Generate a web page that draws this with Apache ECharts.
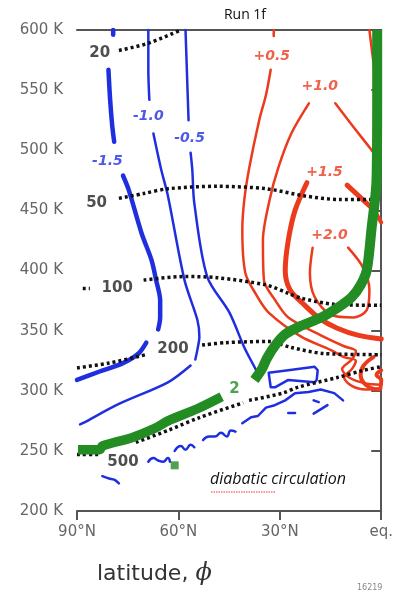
<!DOCTYPE html>
<html><head><meta charset="utf-8">
<script src="https://cdn.jsdelivr.net/npm/echarts@6/dist/echarts.min.js"></script>
<style>html,body{margin:0;padding:0;background:#fff}#c{width:396px;height:590px}</style>
</head><body><div id="c"></div>
<script>
// ---- axes ----
const latTicks = [90, 60, 30, 0];
const latTickLabels = ['90°N', '60°N', '30°N', 'eq.'];
const thetaTicks = [200, 250, 300, 350, 400, 450, 500, 550, 600];
const thetaTickLabels = ['200 K','250 K','300 K','350 K','400 K','450 K','500 K','550 K','600 K'];

// ---- blue (negative) contours [lat, theta K] ----
const blueM15Stub = [[79.3,600],[79.3,596]];
const blueM15a = [[80.7,567],[80.2,542],[79.6,521],[79.0,507]];
const blueM15b = [[76.4,479],[74.7,467],[70.9,431],[68.0,409],[66.6,392],[65.4,375],[65.4,361],[66.0,351]];
const blueM15c = [[90,309],[83.3,316],[76.4,323],[71.8,331],[69.5,340]];
const blueM10a = [[68.9,600],[68.9,567],[68.6,542]];
const blueM10b = [[67.4,514],[65.1,484],[63.1,462],[58.2,392],[54.4,359],[53.8,345],[54.4,334],[55.0,326]];
const blueM10c = [[56.4,321],[63.1,307],[77.6,289],[88.3,273],[89.1,272]];
const blueM05a = [[57.9,600],[57.0,525]];
const blueM05b = [[56.4,498],[55.9,484],[55.3,456],[51.5,395],[44.9,365],[40.5,336],[37.0,317],[36.5,313]];
const blueLoop = [[33.3,315],[27.5,317],[19.7,320],[18.8,317],[19.1,309],[19.7,307],[27.5,309],[31.3,303],[32.7,303],[33.3,315]];
const blueLow = [[41.1,273],[38.5,278],[36.5,279],[34.1,286],[31.5,288],[28.4,292],[25.5,298],[21.5,299],[17.9,301],[13.9,298],[11.3,292]];
const blueDash1 = [[27.5,281.5],[25.5,281.5]];
const blueDash2 = [[20.0,292],[18.5,290.5]];
const blueDash3 = [[20.0,281],[15.9,288]];
const blueSq1 = [[52.7,259],[50.9,262],[49.1,262],[47.4,265],[45.7,262],[44.5,267],[43.1,266]];
const blueSq2 = [[61.1,250],[59.3,254],[57.9,251],[56.4,255],[55.3,253]];
const blueSq3 = [[68.9,241],[67.4,244],[66.0,242],[64.5,241],[63.1,244],[62.5,241]];
const blueSq4 = [[82.5,229],[80.5,227],[79.0,226],[77.6,223]];

// ---- red (positive) contours ----
const redP05Stub = [[31.8,600],[31.8,595]];
const redP05 = [[32.7,567],[34.1,546],[36.1,525],[39.0,486],[40.5,459],[41.1,434],[40.2,398],[37.0,380],[33.3,365],[23.7,345],[15.0,334],[11.0,328],[7.5,325],[8.7,318],[11.0,311],[8.7,304],[4.6,301],[0,302]];
const redP05Right = [[3.5,600],[2.0,567],[1.4,559]];
const redP10 = [[21.4,539],[26.6,514],[30.4,486],[33.0,459],[35.0,425],[34.7,392],[31.3,375],[27.5,361],[17.1,345],[11.0,337],[7.5,333],[8.7,326],[11.6,318],[9.5,311],[4.6,306],[0,305]];
const redP10Right = [[13.6,539],[8.1,519],[1.7,496]];
const redP15 = [[22.0,473],[25.5,450],[27.5,425],[28.4,400],[27.0,384],[22.6,371],[18.2,360],[13.0,352],[6.7,346],[0,343]];
const redP15Right = [[10.1,471],[3.2,453]];
const redBlob = [[1.2,446],[0,440]];
const redP20 = [[20.3,419],[21.1,398],[19.7,378],[14.8,363],[8.1,361],[4.3,367],[3.5,384],[5.5,403],[9.8,419]];
const redCurl = [[2.3,328],[5.2,321],[6.1,313],[4.6,305],[0.9,301],[0,309],[1.4,313],[0,317]];

// ---- green line ----
const greenUpper = [[1.2,600],[1.2,542],[1.4,475],[2.9,434],[4.3,400],[6.1,388],[8.7,378],[12.4,370],[17.7,361],[23.7,354],[28.4,347],[31.3,338],[33.8,327],[35.3,318],[37.5,309]];
const greenLower = [[89.7,251],[83.3,251],[82.5,254],[73.8,261],[66.8,269],[63.1,275],[54.4,285],[47.2,295]];
const greenSquare = [[61.1,238]];

// ---- dotted pressure lines (hPa) ----
const dot20 = [[77.6,583],[68.9,589],[59.3,600]];
const dot50 = [[77.6,460],[70.3,464],[63.1,468],[48.6,470],[34.1,468],[22.6,462],[12.4,459],[0,459]];
const dot100Stub = [[88.3,385],[86.2,385]];
const dot100 = [[70.3,392],[58.2,395],[48.6,394],[34.1,388],[27.5,381],[23.7,377],[14.2,372],[0,371]];
const dot200a = [[90,319],[80.5,323],[69.7,330]];
const dot200b = [[53.0,338],[46.0,340],[33.3,341],[26.6,336],[17.1,331],[0,330]];
const dot500Stub = [[90,247],[83.3,247]];
const dot500a = [[72.6,257],[63.1,267],[53.5,278],[40.8,290]];
const dot500b = [[39.1,292],[29.2,298],[24.6,303],[13.0,311],[5.2,317],[0,320]];

// ---- contour labels ----
const blueLabelPos = [[81.0,491],[68.9,528],[56.7,510]];
const blueLabelText = ['-1.5','-1.0','-0.5'];
const redLabelPos = [[32.4,578],[18.2,553],[16.8,482],[15.3,429]];
const redLabelText = ['+0.5','+1.0','+1.5','+2.0'];
const blackLabelPos = [[83.3,581],[84.2,456],[78.1,385],[61.6,335],[76.4,241]];
const blackLabelText = ['20','50','100','200','500'];
const greenLabelPos = [[43.4,301]];
const greenLabelText = ['2'];

const BLUE = '#1f2fe0', RED = '#ec3a1c', GREEN = '#238c23';

function line(data, color, width, opts) {
  opts = opts || {};
  return {
    type: 'line', data: data, symbol: 'none', silent: true,
    smooth: opts.smooth === undefined ? 0.3 : opts.smooth,
    z: opts.z || 2,
    lineStyle: { color: color, width: width, type: opts.type || 'solid', cap: opts.cap || 'round', join: 'round' }
  };
}
function dotted(data) {
  return line(data, '#111', 3.5, { type: [3, 3], cap: 'butt', z: 4, smooth: 0.3 });
}
function labels(pos, text, color, size, italic) {
  return {
    type: 'scatter', symbolSize: 0, silent: true, z: 6,
    data: pos.map((p, i) => ({ value: p, name: text[i] })),
    label: { show: true, position: 'inside', formatter: p => p.name, color: color,
      fontSize: size, fontWeight: 'bold', fontStyle: italic ? 'italic' : 'normal', fontFamily: 'DejaVu Sans' }
  };
}

const series = [
  line(blueM15Stub, BLUE, 4.5, {smooth:false}), line(blueM15a, BLUE, 4.5), line(blueM15b, BLUE, 4.5), line(blueM15c, BLUE, 4.5),
  line(blueM10a, BLUE, 2.5), line(blueM10b, BLUE, 2.5), line(blueM10c, BLUE, 2.5),
  line(blueM05a, BLUE, 2.5), line(blueM05b, BLUE, 2.5),
  line(blueLoop, BLUE, 2.5, {smooth:false}), line(blueLow, BLUE, 2.5, {smooth:false}),
  line(blueDash1, BLUE, 2.5), line(blueDash2, BLUE, 2.5), line(blueDash3, BLUE, 2.5),
  line(blueSq1, BLUE, 2.5, {smooth:0.5}), line(blueSq2, BLUE, 2.5, {smooth:0.5}), line(blueSq3, BLUE, 2.5, {smooth:0.5}), line(blueSq4, BLUE, 2.5),
  line(redP05Stub, RED, 2.5, {smooth:false}), line(redP05, RED, 2.5), line(redP05Right, RED, 2.5),
  line(redP10, RED, 2.5), line(redP10Right, RED, 2.5),
  line(redP15, RED, 5), line(redP15Right, RED, 5), line(redBlob, RED, 4),
  line(redP20, RED, 2.5), line(redCurl, RED, 4, {smooth:0.4}),
  line(greenUpper, GREEN, 10, {z:5, cap:'butt'}), line(greenLower, GREEN, 9.5, {z:5, cap:'butt'}),
  { type: 'scatter', data: greenSquare, symbol: 'rect', symbolSize: 8, itemStyle: { color: GREEN }, silent: true, z: 5 },
  dotted(dot20), dotted(dot50), dotted(dot100Stub), dotted(dot100), dotted(dot200a), dotted(dot200b),
  dotted(dot500Stub), dotted(dot500a), dotted(dot500b),
  labels(blueLabelPos, blueLabelText, BLUE, 14, true),
  labels(redLabelPos, redLabelText, RED, 14, true),
  labels(blackLabelPos, blackLabelText, '#222', 15, false),
  labels(greenLabelPos, greenLabelText, GREEN, 15, false)
];

const chart = echarts.init(document.getElementById('c'), null, { renderer: 'canvas' });
const axisColor = '#555';
chart.setOption({
  animation: false,
  backgroundColor: '#fff',
  title: { text: 'Run 1f', left: 240, top: 3, textAlign: 'center',
    textStyle: { fontSize: 14, fontWeight: 'normal', color: '#111', fontFamily: 'Open Sans' } },
  grid: { left: 77, right: 8, top: 30, bottom: 79 },
  xAxis: [{
    type: 'value', min: 0, max: 90, interval: 30, inverse: true,
    axisLine: { show: true, lineStyle: { color: axisColor, width: 2 } },
    axisTick: { show: true, length: 9, lineStyle: { color: axisColor, width: 2 } },
    splitLine: { show: false },
    axisLabel: { margin: 14, fontSize: 15, color: '#666', fontFamily: 'DejaVu Sans',
      formatter: v => latTickLabels[latTicks.indexOf(v)] }
  }, {
    type: 'value', min: 0, max: 90, inverse: true, position: 'top',
    axisLine: { show: true, lineStyle: { color: axisColor, width: 2 } },
    axisTick: { show: false }, axisLabel: { show: false }, splitLine: { show: false }
  }],
  yAxis: [{
    type: 'value', min: 200, max: 600, interval: 50,
    axisLine: { show: true, lineStyle: { color: axisColor, width: 2 } },
    axisTick: { show: true, length: 10, lineStyle: { color: axisColor, width: 2 } },
    splitLine: { show: false },
    axisLabel: { margin: 14, fontSize: 15, color: '#666', fontFamily: 'DejaVu Sans',
      formatter: v => thetaTickLabels[thetaTicks.indexOf(v)] }
  }, {
    type: 'value', min: 200, max: 600, interval: 50, position: 'right',
    axisLine: { show: true, lineStyle: { color: axisColor, width: 2 } },
    axisTick: { show: true, inside: true, length: 8, lineStyle: { color: axisColor, width: 2 } },
    axisLabel: { show: false }, splitLine: { show: false }
  }],
  graphic: [
    { type: 'text', left: 97, top: 562, z: 10,
      style: { rich: { a: { fontSize: 22, fill: '#333', fontFamily: 'DejaVu Sans' },
                       b: { fontSize: 24, fill: '#333', fontStyle: 'italic', fontFamily: 'DejaVu Serif' } },
               text: '{a|latitude, }{b|ϕ}' } },
    { type: 'text', left: 210, top: 471, z: 10,
      style: { text: 'diabatic circulation', fontSize: 16, fontStyle: 'italic', fill: '#111', fontFamily: 'Open Sans' } },
    { type: 'line', z: 10, shape: { x1: 211, y1: 492, x2: 275, y2: 492 },
      style: { stroke: '#e33', lineWidth: 1, lineDash: [1.5, 1] } },
    { type: 'text', left: 357, top: 584, z: 10,
      style: { text: '16219', fontSize: 8, fill: '#888', fontFamily: 'DejaVu Sans' } }
  ],
  series: series
});
</script></body></html>
